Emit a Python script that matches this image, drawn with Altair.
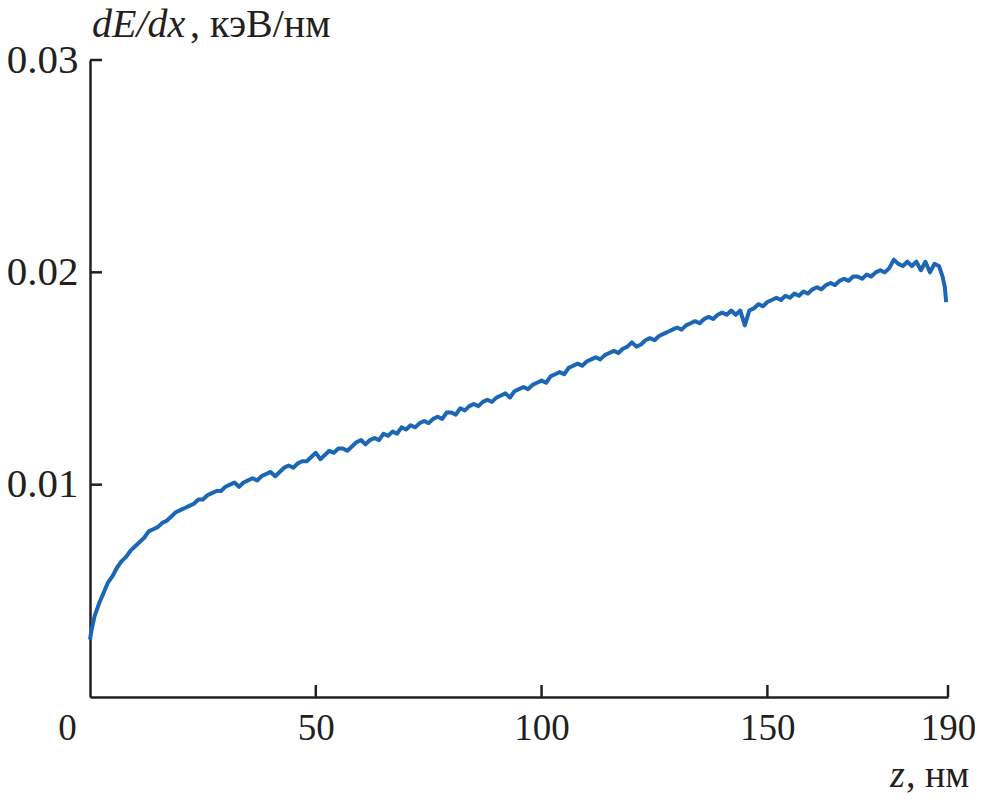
import altair as alt
import pandas as pd

# Data (depth z in nm, stopping power dE/dx in keV/nm)
z_nm = [0, 0.3, 0.6, 1, 2, 3, 4, 5, 6, 7, 8, 9] + list(range(10, 189)) + [188.8, 189.3, 189.6]
dedx = [0.0027, 0.0031, 0.0034, 0.0038, 0.0044, 0.0049, 0.0054, 0.0057, 0.0061, 0.0064, 0.0066, 0.0069,
        # 10..29
        0.0071, 0.0073, 0.0075, 0.0078, 0.0079, 0.0080, 0.0082, 0.0083, 0.0085, 0.0087,
        0.0088, 0.0089, 0.0090, 0.0091, 0.0093, 0.0093, 0.0095, 0.0096, 0.0097, 0.0097,
        # 30..49
        0.0099, 0.0100, 0.0101, 0.0099, 0.0101, 0.0102, 0.0103, 0.0102, 0.0104, 0.0105,
        0.0106, 0.0104, 0.0106, 0.0108, 0.0109, 0.0108, 0.0110, 0.0111, 0.0111, 0.0113,
        # 50..69
        0.0115, 0.0112, 0.0114, 0.0116, 0.0115, 0.0117, 0.0117, 0.0116, 0.0118, 0.0120,
        0.0121, 0.0119, 0.0121, 0.0122, 0.0121, 0.0124, 0.0123, 0.0125, 0.0124, 0.0127,
        # 70..89
        0.0126, 0.0128, 0.0127, 0.0129, 0.0130, 0.0129, 0.0131, 0.0132, 0.0131, 0.0134,
        0.0134, 0.0133, 0.0136, 0.0135, 0.0137, 0.0138, 0.0137, 0.0139, 0.0140, 0.0139,
        # 90..109
        0.0141, 0.0142, 0.0143, 0.0141, 0.0144, 0.0145, 0.0146, 0.0145, 0.0147, 0.0148,
        0.0149, 0.0148, 0.0151, 0.0152, 0.0153, 0.0152, 0.0155, 0.0156, 0.0157, 0.0156,
        # 110..129
        0.0158, 0.0159, 0.0160, 0.0159, 0.0161, 0.0162, 0.0163, 0.0162, 0.0164, 0.0165,
        0.0167, 0.0165, 0.0166, 0.0168, 0.0169, 0.0168, 0.0170, 0.0171, 0.0172, 0.0173,
        # 130..149
        0.0174, 0.0173, 0.0175, 0.0176, 0.0177, 0.0176, 0.0178, 0.0179, 0.0178, 0.0180,
        0.0181, 0.0180, 0.0182, 0.0180, 0.0182, 0.0175, 0.0182, 0.0183, 0.0185, 0.0184,
        # 150..169
        0.0186, 0.0187, 0.0188, 0.0187, 0.0189, 0.0188, 0.0190, 0.0189, 0.0191, 0.0190,
        0.0192, 0.0193, 0.0192, 0.0194, 0.0195, 0.0194, 0.0196, 0.0197, 0.0196, 0.0198,
        # 170..188
        0.0198, 0.0197, 0.0199, 0.0198, 0.0200, 0.0201, 0.0200, 0.0202, 0.0206, 0.0204,
        0.0203, 0.0205, 0.0203, 0.0205, 0.0201, 0.0205, 0.0200, 0.0204, 0.0203,
        # tail
        0.0198, 0.0193, 0.0186]

x_ticks = [50, 100, 150, 190]
x_labels = [0, 50, 100, 150, 190]
y_ticks = [0.01, 0.02, 0.03]

W, H = 858, 637
FONT = "Liberation Serif"
INK = "#231f20"
FSX = 37
FSY = 41
FST = 40

df = pd.DataFrame({"z": z_nm, "dedx": dedx})
xt = pd.DataFrame({"z": x_ticks, "y0": [0.0] * len(x_ticks), "y1": [0.03 * 12 / H] * len(x_ticks)})
yt = pd.DataFrame({"dedx": y_ticks, "x0": [0.0] * len(y_ticks), "x1": [190 * 12 / W] * len(y_ticks)})

xscale = alt.Scale(domain=[0, 190], nice=False, zero=False)
yscale = alt.Scale(domain=[0, 0.03], nice=False)

line = alt.Chart(df).mark_line(color="#1b67b6", strokeWidth=4, strokeJoin="round").encode(
    x=alt.X("z:Q", scale=xscale,
            axis=alt.Axis(values=x_labels, title=None, ticks=False, grid=False,
                          labelFont=FONT, labelFontSize=FSX, labelColor=INK,
                          labelPadding=13, labelFlush=False, labelOverlap=False,
                          domainColor=INK, domainWidth=2.5,
                          labelOffset=alt.condition("datum.value == 0", alt.value(-23), alt.value(0)))),
    y=alt.Y("dedx:Q", scale=yscale,
            axis=alt.Axis(values=y_ticks, format=".2f", title=None, ticks=False, grid=False,
                          labelFont=FONT, labelFontSize=FSY, labelColor=INK,
                          labelPadding=12, labelFlush=False, labelOverlap=False,
                          domainColor=INK, domainWidth=2.5)),
)

xtick_marks = alt.Chart(xt).mark_rule(color=INK, strokeWidth=2.5).encode(
    x=alt.X("z:Q", scale=xscale),
    y=alt.Y("y0:Q", scale=yscale),
    y2=alt.Y2("y1:Q"))
ytick_marks = alt.Chart(yt).mark_rule(color=INK, strokeWidth=2.5).encode(
    y=alt.Y("dedx:Q", scale=yscale),
    x=alt.X("x0:Q", scale=xscale),
    x2=alt.X2("x1:Q"))

def label(text, x, y, size, italic=False, align="left"):
    return alt.Chart(pd.DataFrame({"t": [text]})).mark_text(
        font=FONT, fontSize=size, color=INK, align=align, baseline="alphabetic",
        fontStyle="italic" if italic else "normal").encode(
        text="t:N", x=alt.value(x), y=alt.value(y))

texts = [
    label("dE/dx", 2, -23, FST, italic=True),
    label(", кэВ/нм", 100, -23, FST),
    label("z", 800, H + 90, 38, italic=True),
    label(", нм", 816, H + 90, 38),
]

chart = alt.layer(line, xtick_marks, ytick_marks, *texts).properties(
    width=W, height=H,
    autosize=alt.AutoSizeParams(type="none"),
    padding={"left": 82, "top": 52, "right": 27, "bottom": 100},
    background="white",
).configure_view(stroke=None)

chart.save("out.html", embed_options={"renderer": "svg", "actions": False})
